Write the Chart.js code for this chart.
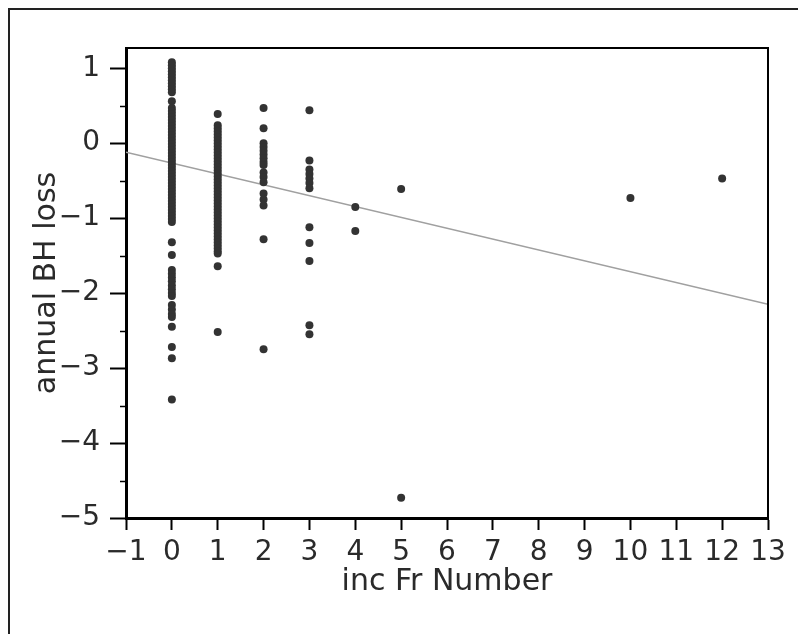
<!DOCTYPE html>
<html>
<head>
<meta charset="utf-8">
<script src="https://cdn.jsdelivr.net/npm/chart.js@4/dist/chart.umd.min.js"></script>
<style>
  html, body { margin: 0; padding: 0; background: #fff; }
  #wrap { position: relative; width: 798px; height: 634px; overflow: hidden; }
</style>
</head>
<body>
<div id="wrap"><canvas id="grafico" width="798" height="634"></canvas></div>
<script>
// === Datos ===
const xTicks = [-1, 0, 1, 2, 3, 4, 5, 6, 7, 8, 9, 10, 11, 12, 13];
const yTicks = [-5, -4, -3, -2, -1, 0, 1];
const yMinorTicks = [-4.5, -3.5, -2.5, -1.5, -0.5, 0.5];

// valores de "annual BH loss" por cada "inc Fr Number"
const lossAt0 = [1.08, 1.04, 1.0, 0.96, 0.92, 0.88, 0.84, 0.8, 0.76, 0.72, 0.68, 0.56,
  0.47, 0.43, 0.39, 0.35, 0.31, 0.27, 0.23, 0.19, 0.15, 0.11, 0.07, 0.03, -0.01,
  -0.05, -0.09, -0.13, -0.17, -0.21, -0.25, -0.29, -0.33, -0.37, -0.41, -0.45,
  -0.49, -0.53, -0.57, -0.61, -0.65, -0.69, -0.73, -0.77, -0.81, -0.85, -0.89,
  -0.93, -0.97, -1.01, -1.05, -1.32, -1.49, -1.69, -1.74, -1.79, -1.84, -1.9,
  -1.95, -2.0, -2.04, -2.16, -2.22, -2.28, -2.32, -2.45, -2.72, -2.87, -3.42];
const lossAt1 = [0.39, 0.24, 0.2, 0.16, 0.12, 0.08, 0.04, 0.0, -0.04, -0.08,
  -0.12, -0.16, -0.2, -0.24, -0.28, -0.32, -0.36, -0.4, -0.44, -0.48, -0.52,
  -0.56, -0.6, -0.64, -0.68, -0.72, -0.76, -0.8, -0.84, -0.88, -0.92, -0.96,
  -1.0, -1.04, -1.08, -1.12, -1.16, -1.2, -1.24, -1.28, -1.32, -1.36, -1.4,
  -1.44, -1.47, -1.64, -2.52];
const lossAt2 = [0.47, 0.2, 0.0, -0.05, -0.1, -0.15, -0.2, -0.25, -0.29, -0.39,
  -0.45, -0.52, -0.67, -0.75, -0.83, -1.28, -2.75];
const lossAt3 = [0.44, -0.23, -0.35, -0.41, -0.47, -0.53, -0.6, -1.12, -1.33,
  -1.57, -2.43, -2.55];
const lossAt4 = [-0.85, -1.17];
const lossAt5 = [-0.61, -4.73];
const lossAt10 = [-0.73];
const lossAt12 = [-0.47];

const fitX = [-1, 13];
const fitY = [-0.12, -2.15];

const columnas = [
  [0, lossAt0], [1, lossAt1], [2, lossAt2], [3, lossAt3],
  [4, lossAt4], [5, lossAt5], [10, lossAt10], [12, lossAt12]
];
const puntos = columnas.flatMap(([x, ys]) => ys.map(y => ({ x, y })));
const recta = fitX.map((x, i) => ({ x, y: fitY[i] }));

const fuente = "'DejaVu Sans', Verdana, sans-serif";
const colorTexto = "#2a2a2a";
const conMenos = v => String(v).replace("-", "\u2212");

// === Marco exterior, bordes superior/derecho y ticks menores ===
const marcoPlugin = {
  id: "marco",
  beforeDraw(chart) {
    const ctx = chart.ctx;
    ctx.save();
    ctx.strokeStyle = "#222";
    ctx.lineWidth = 2;
    ctx.beginPath();
    ctx.moveTo(9, 640);
    ctx.lineTo(9, 9);
    ctx.lineTo(800, 9);
    ctx.stroke();
    ctx.restore();
  },
  afterDraw(chart) {
    const { ctx, chartArea: a } = chart;
    const y = chart.scales.y;
    ctx.save();
    ctx.strokeStyle = "#000";
    ctx.lineWidth = 2;
    ctx.beginPath();
    ctx.moveTo(a.left, a.top);
    ctx.lineTo(a.right, a.top);
    ctx.lineTo(a.right, a.bottom);
    ctx.stroke();
    ctx.lineWidth = 1.5;
    ctx.beginPath();
    yMinorTicks.forEach(v => {
      const py = Math.round(y.getPixelForValue(v)) + 0.5;
      ctx.moveTo(a.left - 6, py);
      ctx.lineTo(a.left, py);
    });
    ctx.stroke();
    ctx.restore();
  }
};

new Chart(document.getElementById("grafico"), {
  type: "scatter",
  data: {
    datasets: [
      {
        label: "ajuste",
        type: "line",
        data: recta,
        borderColor: "#a0a0a0",
        borderWidth: 1.5,
        pointRadius: 0,
        fill: false,
        order: 2
      },
      {
        label: "annual BH loss",
        data: puntos,
        backgroundColor: "#333",
        borderWidth: 0,
        pointRadius: 4,
        order: 1
      }
    ]
  },
  options: {
    responsive: false,
    animation: false,
    layout: { padding: { left: 0, top: 48, right: 30, bottom: 0 } },
    plugins: {
      legend: { display: false },
      tooltip: { enabled: false }
    },
    scales: {
      x: {
        type: "linear",
        min: -1,
        max: 13,
        afterBuildTicks: s => { s.ticks = xTicks.map(v => ({ value: v })); },
        afterFit: s => { s.height = 116; },
        border: { display: true, color: "#000", width: 3 },
        grid: { drawOnChartArea: false, drawTicks: true, tickLength: 12, tickWidth: 2, tickColor: "#000" },
        ticks: { color: colorTexto, font: { family: fuente, size: 28 }, padding: 6, maxRotation: 0, autoSkip: false, callback: conMenos },
        title: {
          display: true,
          text: "inc Fr Number",
          color: colorTexto,
          font: { family: fuente, size: 30 },
          padding: { top: 0, bottom: 34 }
        }
      },
      y: {
        type: "linear",
        min: -5,
        max: 1.27,
        afterBuildTicks: s => { s.ticks = yTicks.map(v => ({ value: v })); },
        afterFit: s => { s.width = 126; },
        border: { display: true, color: "#000", width: 3 },
        grid: { drawOnChartArea: false, drawTicks: true, tickLength: 16, tickWidth: 2, tickColor: "#000" },
        ticks: { color: colorTexto, font: { family: fuente, size: 28 }, padding: 10, autoSkip: false, callback: conMenos },
        title: {
          display: true,
          text: "annual BH loss",
          color: colorTexto,
          font: { family: fuente, size: 30 },
          padding: { top: 29, bottom: 0 }
        }
      }
    }
  },
  plugins: [marcoPlugin]
});
</script>
</body>
</html>
